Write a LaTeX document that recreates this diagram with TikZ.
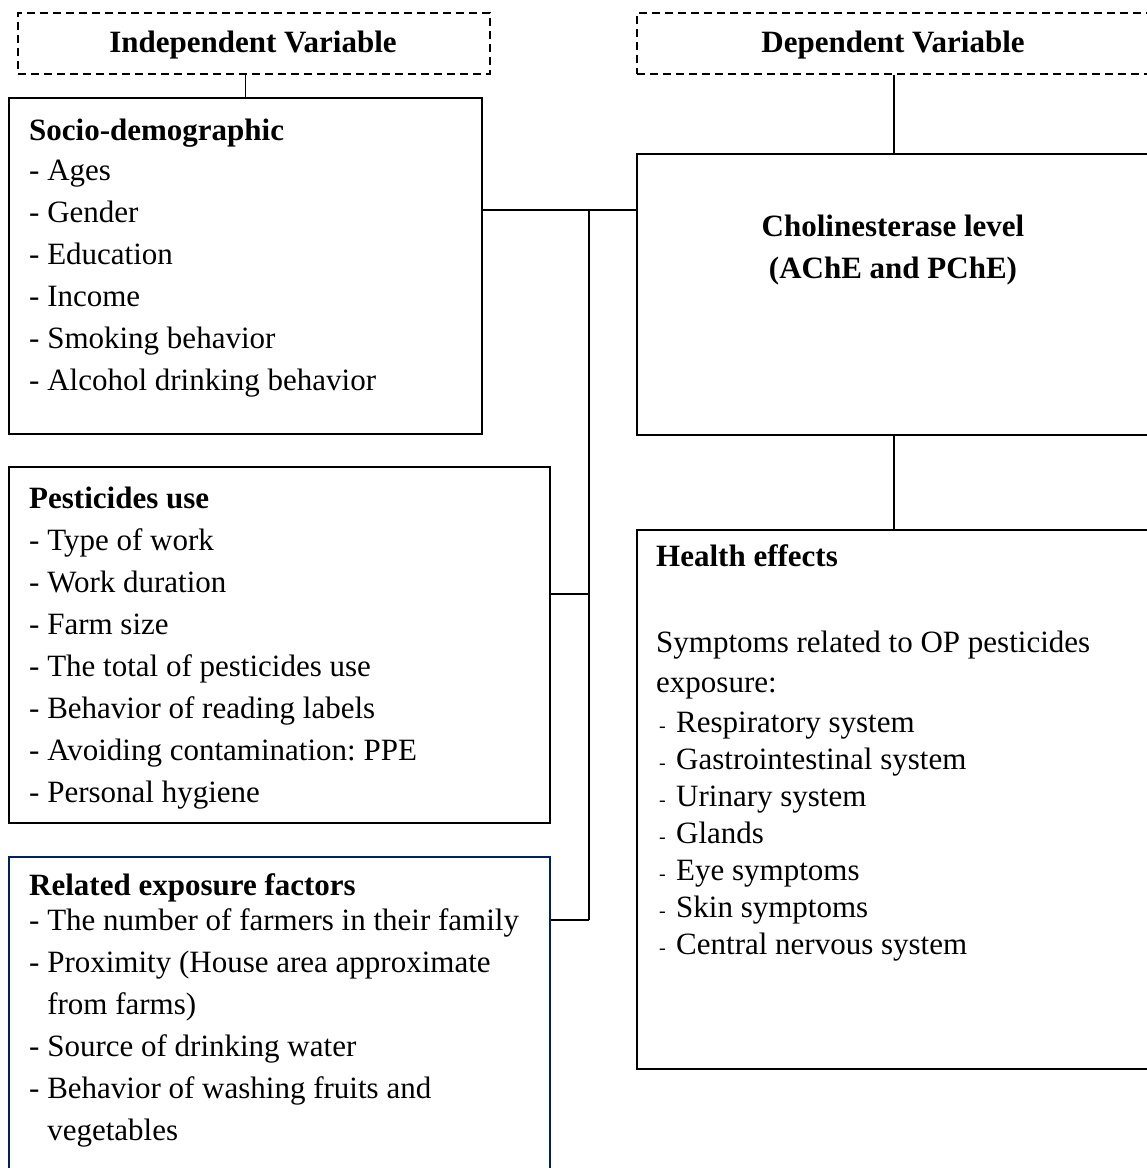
\documentclass[tikz,border=0pt]{standalone}
\usepackage{fontspec}
\setmainfont{Liberation Serif}
\definecolor{boxnavy}{RGB}{0,32,96}
\frenchspacing

\begin{document}
\begin{tikzpicture}[x=1pt,y=-1pt,
     factbox/.style={draw,line width=1.7pt,anchor=north west,inner sep=0pt},
     varbox/.style={factbox,dash pattern=on 8pt off 5pt},
     itemtxt/.style={anchor=base west,inner sep=0pt,font=\fontsize{31}{42}\selectfont},
     headtxt/.style={itemtxt,font=\fontsize{31}{42}\selectfont\bfseries},
     linkline/.style={line width=1.7pt}
     ]
%Page frame, the right and lower boxes run past it
\useasboundingbox (0,0) rectangle (1147,1168);
\clip (0,0) rectangle (1147,1168);

%Line spacing of the lists
\def \dy{42}
\def \hy{37}

%Variable boxes
\node[varbox,minimum width=472,minimum height=61] (indep) at (17,12) {};
\node[varbox,minimum width=514,minimum height=61] (dep) at (636,12) {};
\node[headtxt,anchor=base] (indeptxt) at (253,52) {Independent Variable};
\node[headtxt,anchor=base] (deptxt) at (893,52) {Dependent Variable};

%Left column
\node[factbox,minimum width=473,minimum height=336] (soc) at (8,97) {};
\node[factbox,minimum width=541,minimum height=356] (pest) at (8,466) {};
\node[factbox,draw=boxnavy,minimum width=541,minimum height=340] (rel) at (8,856) {};

%Right column
\node[factbox,minimum width=514,minimum height=281] (chol) at (636,153) {};
\node[factbox,minimum width=514,minimum height=539] (health) at (636,529) {};

%Socio-demographic
\node[headtxt] (soctitle) at (29,140) {Socio-demographic};
\foreach [count=\i] \k in {Ages,Gender,Education,Income,Smoking behavior,Alcohol drinking behavior}
   {
\pgfmathsetmacro{\y}{180+(\i-1)*\dy}
\node[itemtxt] (soc\i) at (29,\y) {- \k};
   }

%Pesticides use
\node[headtxt] (pesttitle) at (29,508) {Pesticides use};
\foreach [count=\i] \k in {Type of work,Work duration,Farm size,The total of pesticides use,
      Behavior of reading labels,Avoiding contamination: PPE,Personal hygiene}
   {
\pgfmathsetmacro{\y}{550+(\i-1)*\dy}
\node[itemtxt] (pest\i) at (29,\y) {- \k};
   }

%Related exposure factors
\node[headtxt] (reltitle) at (29,895) {Related exposure factors};
\foreach [count=\i] \k in {- The number of farmers in their family,- Proximity (House area approximate,
      \hphantom{-\ }from farms),- Source of drinking water,- Behavior of washing fruits and,
      \hphantom{-\ }vegetables}
   {
\pgfmathsetmacro{\y}{930+(\i-1)*\dy}
\node[itemtxt] (rel\i) at (29,\y) {\k};
   }

%Cholinesterase
\foreach [count=\i] \k in {Cholinesterase level,(AChE and PChE)}
   {
\pgfmathsetmacro{\y}{236+(\i-1)*\dy}
\node[headtxt,anchor=base] (chol\i) at (893,\y) {\k};
   }

%Health effects
\node[headtxt] (healthtitle) at (656,566) {Health effects};
\node[itemtxt] (symp1) at (656,652) {Symptoms related to OP pesticides};
\node[itemtxt] (symp2) at (656,692) {exposure:};
\foreach [count=\i] \k in {Respiratory system,Gastrointestinal system,Urinary system,Glands,
      Eye symptoms,Skin symptoms,Central nervous system}
   {
\pgfmathsetmacro{\y}{732+(\i-1)*\hy}
\node[itemtxt] (health\i) at (659,\y) {\makebox[17pt][l]{\fontsize{20}{20}\selectfont -}\k};
   }

%Connectors
\coordinate (jtop) at (589,210);
\coordinate (jpest) at (589,594);
\coordinate (jrel) at (589,920);
\draw[linkline] (soc.north) -- (soc.north |- indep.south);
\draw[linkline] (dep.south) -- (chol.north);
\draw[linkline] (chol.south) -- (health.north);
\draw[linkline] (soc.east |- jtop) -- (chol.west |- jtop);
\draw[linkline] (jtop) -- (jrel);
\draw[linkline] (pest.east |- jpest) -- (jpest);
\draw[linkline] (rel.east |- jrel) -- (jrel);
\end{tikzpicture}
\end{document}
